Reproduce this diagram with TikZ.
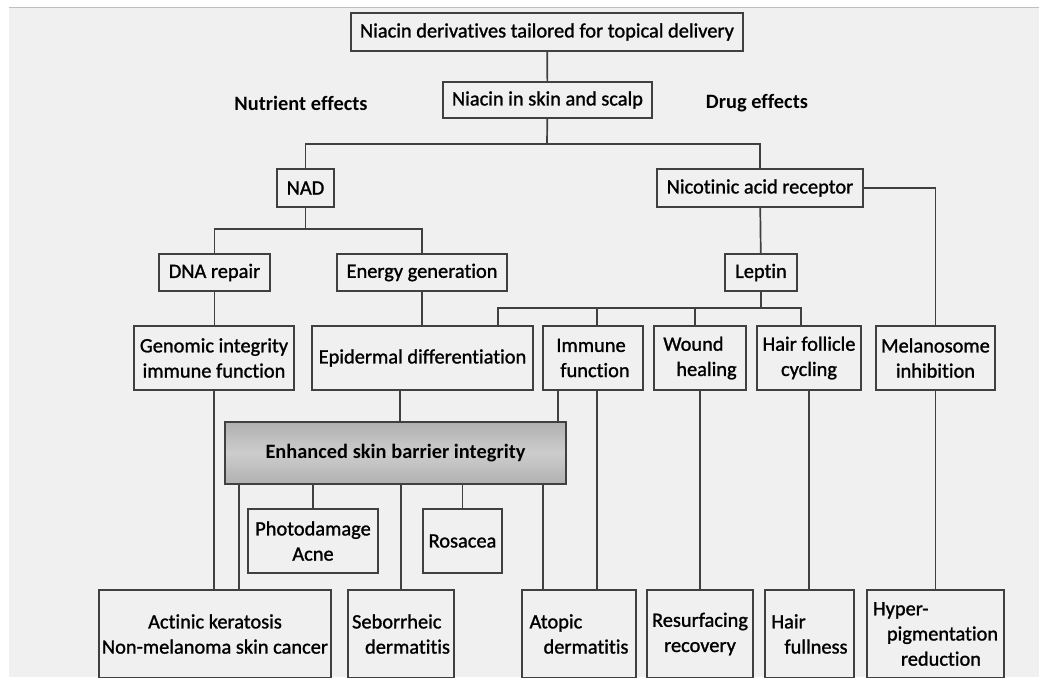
\documentclass[tikz,border=0pt]{standalone}
\usepackage{fontspec}
\setmainfont{Carlito}[Ligatures=NoCommon]
\newfontfamily\boxfont{Carlito}[Ligatures=NoCommon, FakeBold=1.2]
\usepackage{tikz}
\usetikzlibrary{positioning}
\usetikzlibrary{calc}

\definecolor{paper}{HTML}{F0F0F0}
\definecolor{linecol}{HTML}{404040}
\definecolor{barrierdark}{HTML}{B0B0B0}
\definecolor{barrierlight}{HTML}{CDCDCD}

\tikzset{
  box/.style={draw=linecol, line width=0.9pt, inner sep=1.5pt, align=center,
    font=\boxfont\fontsize{10.2}{12.6}\selectfont, text=black},
  greybox/.style={box, top color=barrierdark, bottom color=barrierdark,
    middle color=barrierlight, font=\fontsize{10.2}{12.6}\selectfont\bfseries},
  head/.style={font=\fontsize{10.2}{12.6}\selectfont\bfseries, text=black},
  link/.style={draw=linecol, line width=0.85pt}
}

\begin{document}
\begin{tikzpicture}[x=0.5pt, y=-0.5pt]

      \useasboundingbox (0,0) rectangle (1039,677);
      \fill[white] (0,0) rectangle (1039,677);
      \fill[paper] (9,7) rectangle (1039,677);
      \draw[black!25, line width=0.6pt] (9,7.5) -- (1039,7.5);

      \def\rowheight{32pt}
      \def\lowheight{44pt}

      % top of the tree
      \node (top)  at (547, 32)  [box, minimum width=196pt, minimum height=19pt]
        {Niacin derivatives tailored for topical delivery};
      \node (skin) at (547.5,100) [box, minimum width=104.5pt, minimum height=18pt]
        {Niacin in skin and scalp};
      \node (nutrient) at (301,103) [head] {Nutrient effects};
      \node (drug)     at (757,103) [head] {Drug effects};

      \node (nad) at (305.5,188) [box, minimum width=28.5pt, minimum height=19pt] {NAD};
      \node (nar) at (760,188)   [box, minimum width=103pt, minimum height=19pt]
        {Nicotinic acid receptor};

      \node (dna)    at (214.5,272.5) [box, minimum width=55.5pt, minimum height=18.5pt] {DNA repair};
      \node (energy) at (422,272.5)   [box, minimum width=85pt, minimum height=18.5pt] {Energy generation};
      \node (leptin) at (761,272.5)   [box, minimum width=36pt, minimum height=18.5pt] {Leptin};

      % middle row
      \node (genomic)   at (214,358)   [box, minimum width=80pt, minimum height=\rowheight]
        {Genomic integrity\\immune function};
      \node (epidermal) at (422.5,358) [box, minimum width=110.5pt, minimum height=\rowheight]
        {Epidermal differentiation};
      \node (immune)    at (593,358)   [box, align=left, minimum width=50pt, minimum height=\rowheight]
        {Immune\\\hspace*{2pt}function};
      \node (wound)     at (700,358)   [box, align=left, minimum width=46pt, minimum height=\rowheight]
        {Wound\\\hspace*{6.5pt}healing};
      \node (hairf)     at (809,358)   [box, minimum width=52pt, minimum height=\rowheight]
        {Hair follicle\\cycling};
      \node (melano)    at (935.5,358) [box, minimum width=59.5pt, minimum height=\rowheight]
        {Melanosome\\inhibition};

      \node (barrier) at (395.5,453) [greybox, minimum width=170.5pt, minimum height=31pt]
        {Enhanced skin barrier integrity};

      \node (photo)   at (313,541)   [box, minimum width=65pt, minimum height=\rowheight]
        {Photodamage\\Acne};
      \node (rosacea) at (462.5,541) [box, minimum width=39.5pt, minimum height=\rowheight]
        {Rosacea};

      % bottom row
      \node (actinic)  at (215,634)   [box, minimum width=115pt, minimum height=\lowheight]
        {Actinic keratosis\\Non-melanoma skin cancer};
      \node (sebor)    at (401,634)   [box, align=left, minimum width=53pt, minimum height=\lowheight]
        {Seborrheic\\\hspace*{6.5pt}dermatitis};
      \node (atopic)   at (579,634)   [box, align=left, minimum width=57pt, minimum height=\lowheight]
        {Atopic\\\hspace*{7pt}dermatitis};
      \node (resurf)   at (700,634)   [box, minimum width=53pt, minimum height=\lowheight]
        {Resurfacing\\recovery};
      \node (hairfull) at (809.5,634) [box, align=left, minimum width=44.5pt, minimum height=\lowheight]
        {Hair\\\hspace*{6.5pt}fullness};
      \node (hyper)    at (935.5,634) [box, align=left, minimum width=68.5pt, minimum height=\lowheight]
        {Hyper-\\\hspace*{7pt}pigmentation\\\hspace*{14pt}reduction};

      % connectors
      \coordinate (split1) at (547,144);
      \coordinate (split2) at (305.5,229);
      \coordinate (split3) at (761,308);

      \path[link] (top) -- (skin);
      \path[link] (skin) -- (split1);
      \path[link] (nad.north) |- (split1) -| (nar.north);
      \path[link] (nad) -- (split2);
      \path[link] (dna.north) |- (split2) -| (energy.north);
      \path[link] (nar.east) -| (melano.north);
      \path[link] (nar) -- (leptin);
      \path[link] (leptin) -- (split3);
      \path[link] ([xshift=37.75pt]epidermal.north) |- (split3)
        -| ([xshift=-4pt]hairf.north);
      \path[link] ([xshift=2pt]immune.north) -- ([xshift=2pt]immune.north |- split3);
      \path[link] ([xshift=-2.5pt]wound.north) -- ([xshift=-2.5pt]wound.north |- split3);

      \path[link] (dna) -- (dna |- genomic.north);
      \path[link] (energy) -- (energy |- epidermal.north);
      \path[link] (genomic.south) -- (genomic.south |- actinic.north);
      \path[link] ([xshift=-11.25pt]epidermal.south) -- ([xshift=-11.25pt]epidermal.south |- barrier.north);
      \path[link] ([xshift=-17.5pt]immune.south) -- ([xshift=-17.5pt]immune.south |- barrier.north);
      \path[link] ([xshift=2pt]immune.south) -- ([xshift=2pt]immune.south |- atopic.north);

      \path[link] ([xshift=12pt]actinic.north) -- ([xshift=12pt]actinic.north |- barrier.south);
      \path[link] (photo.north) -- (photo.north |- barrier.south);
      \path[link] (sebor.north) -- (sebor.north |- barrier.south);
      \path[link] (rosacea.north) -- (rosacea.north |- barrier.south);
      \path[link] ([xshift=-18pt]atopic.north) -- ([xshift=-18pt]atopic.north |- barrier.south);

      \path[link] (wound.south) -- (wound.south |- resurf.north);
      \path[link] (hairf.south) -- (hairf.south |- hairfull.north);
      \path[link] (melano.south) -- (melano.south |- hyper.north);

    \end{tikzpicture}
\end{document}
